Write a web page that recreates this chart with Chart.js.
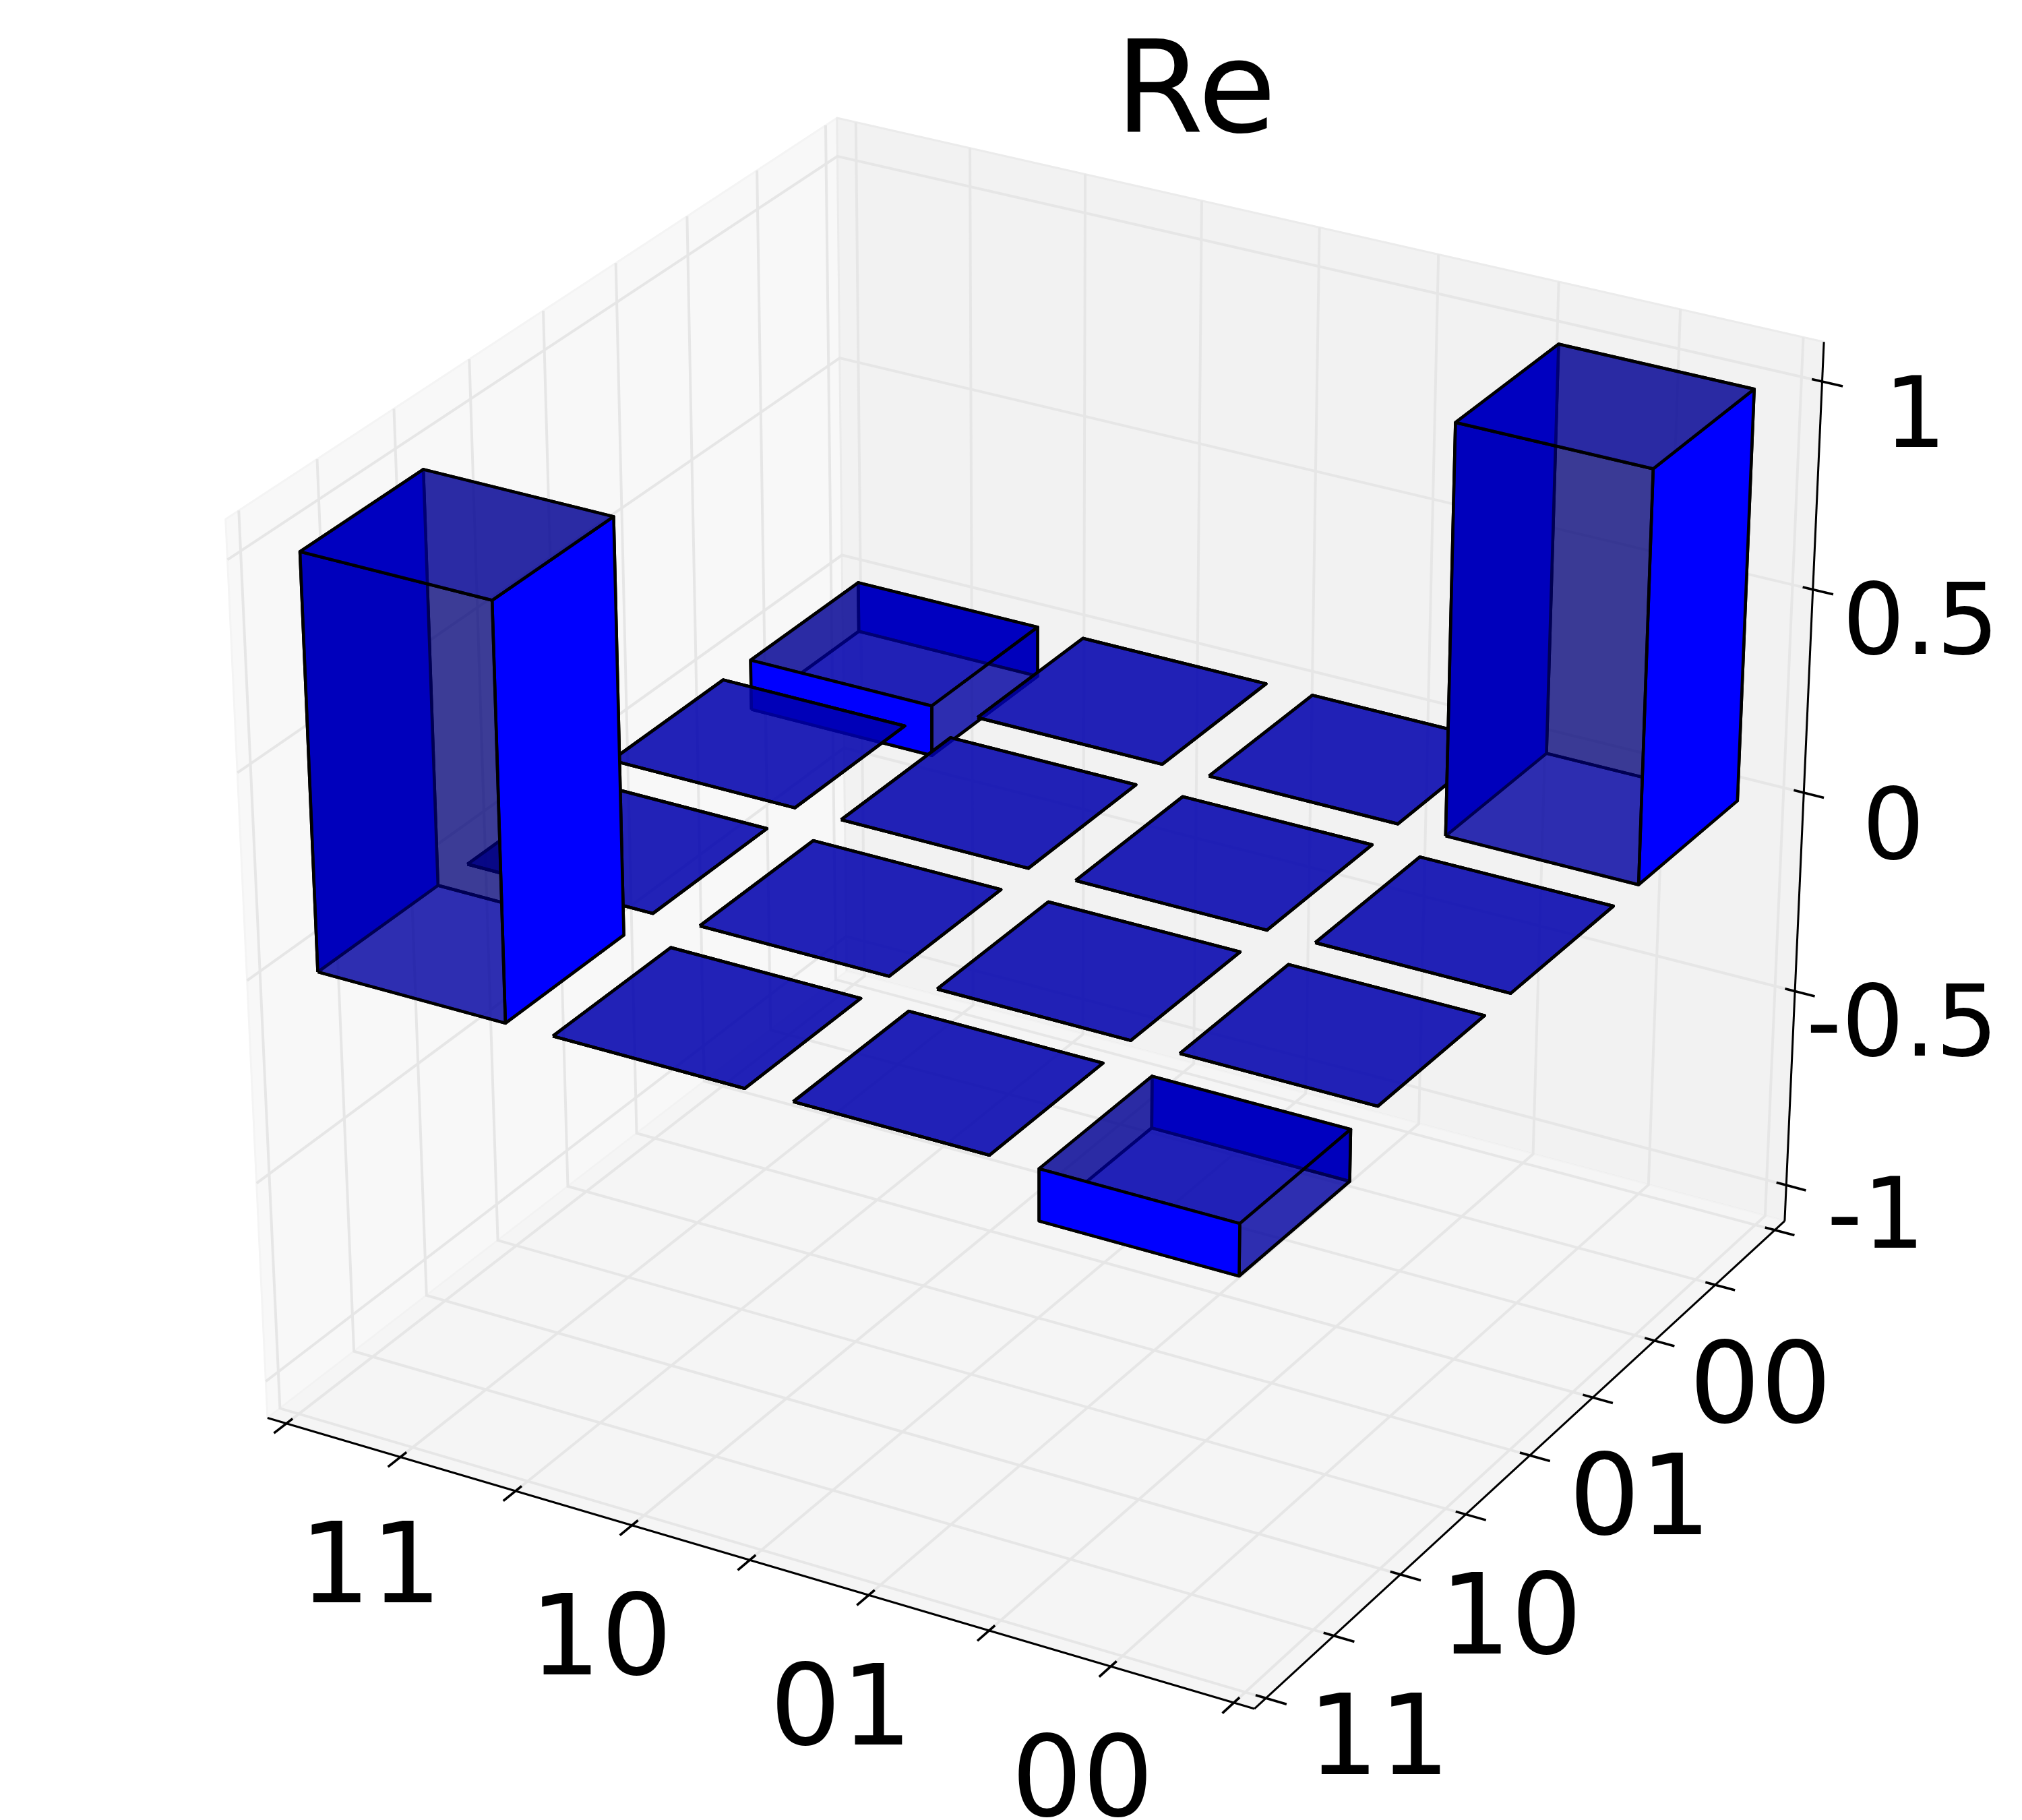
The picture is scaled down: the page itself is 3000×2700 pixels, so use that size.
<!DOCTYPE html>
<html>
<head>
<meta charset="utf-8">
<title>Re</title>
<script src="https://cdn.jsdelivr.net/npm/chart.js@4"></script>
<style>
  html, body { margin: 0; padding: 0; background: #fff; }
  canvas { display: block; }
</style>
</head>
<body>
<canvas id="grafico" width="3000" height="2700"></canvas>
<script>
// values of the matrix, one small list per row, front row first
const linha_11 = [1, 0, 0, -0.125];
const linha_10 = [0, 0, 0, 0];
const linha_01 = [0, 0, 0, 0];
const linha_00 = [-0.125, 0, 0, 1];
const linhas = [linha_11, linha_10, linha_01, linha_00];

const rotulos_x = ["11", "10", "01", "00"];
const rotulos_y = ["11", "10", "01", "00"];
const ticks_xy = [-0.5, 0, 0.5, 1, 1.5, 2, 2.5, 3, 3.5];
const ticks_z = [-1, -0.5, 0, 0.5, 1];
const rotulos_z = ["-1", "-0.5", "0", "0.5", "1"];
const titulo = "Re";

// limits of the 3d box
const lim_xy = [-0.5, 3.5];
const lim_z = [-1.05, 1.05];
const meia_barra = 0.4;
const folga = 1 / 48;

// elev 30, azim -60, dist 10, same camera as mplot3d
const u = [0.8660254, 0.5, 0];
const v = [-0.25, 0.4330127, 0.8660254];
const n = [0.4330127, -0.75, 0.5];

function caixa(x, y, z) {
  return [
    (x - lim_xy[0]) / (lim_xy[1] - lim_xy[0]) - 0.5,
    (y - lim_xy[0]) / (lim_xy[1] - lim_xy[0]) - 0.5,
    (z - lim_z[0]) / (lim_z[1] - lim_z[0]) - 0.5
  ];
}

const dot = (a, b) => a[0] * b[0] + a[1] * b[1] + a[2] * b[2];

function projetar(p) {
  const w = 10 - dot(n, p);
  return { x: 1540.5 + 16227 * dot(u, p) / w, y: 1313 - 14607 * dot(v, p) / w };
}

const ponto = (x, y, z) => projetar(caixa(x, y, z));
const borda = 0.5 + folga;

const conjuntos = [];

function linha(pts, cor, largura) {
  conjuntos.push({
    data: pts, showLine: true, fill: false, borderColor: cor, borderWidth: largura,
    pointRadius: 0, tension: 0, clip: false, borderCapStyle: "butt"
  });
}

function poligono(pts, cor, cor_borda, largura) {
  conjuntos.push({
    data: pts.concat([pts[0]]), showLine: true, fill: "shape", backgroundColor: cor,
    borderColor: cor_borda, borderWidth: largura, borderJoinStyle: "round",
    pointRadius: 0, tension: 0, clip: false
  });
}

// panes
const A = projetar([-borda, -borda, -borda]);
const B = projetar([borda, -borda, -borda]);
const C = projetar([borda, borda, -borda]);
const D = projetar([-borda, borda, -borda]);
const E = projetar([-borda, -borda, borda]);
const F = projetar([borda, borda, borda]);
const G = projetar([-borda, borda, borda]);
poligono([A, D, G, E], "rgb(248,248,248)", "rgb(244,244,244)", 3);
poligono([D, C, F, G], "rgb(242,242,242)", "rgb(235,235,235)", 3);
poligono([A, B, C, D], "rgb(245,245,245)", "rgb(242,242,242)", 2);

// grid
const cor_grade = "rgb(230,230,230)";
const pad_xy = folga * (lim_xy[1] - lim_xy[0]);
const pad_z = folga * (lim_z[1] - lim_z[0]);
const y0 = lim_xy[0] - pad_xy, y1 = lim_xy[1] + pad_xy;
const z0 = lim_z[0] - pad_z, z1 = lim_z[1] + pad_z;
ticks_xy.forEach(t => {
  linha([ponto(t, y0, z0), ponto(t, y1, z0), ponto(t, y1, z1)], cor_grade, 4);
  linha([ponto(y1, t, z0), ponto(y0, t, z0), ponto(y0, t, z1)], cor_grade, 4);
});
ticks_z.forEach(t => {
  linha([ponto(y0, y0, t), ponto(y0, y1, t), ponto(y1, y1, t)], cor_grade, 4);
});

// axis lines and tick marks
linha([A, B], "#000", 3);
linha([B, C], "#000", 3);
linha([C, F], "#000", 3);
const dentro = 0.25 * pad_xy * 2;
const fora = pad_xy;
ticks_xy.forEach(t => {
  linha([ponto(t, y0 + dentro, z0), ponto(t, y0 - fora, z0)], "#000", 3.6);
  linha([ponto(y1 - dentro, t, z0), ponto(y1 + fora, t, z0)], "#000", 3.6);
});
ticks_z.forEach(t => {
  linha([ponto(y1 - dentro, y1, t), ponto(y1 + fora, y1, t)], "#000", 3.6);
});

// bars: all faces go through one depth sort, far faces first
const claro = "rgb(0,0,255)";
const escuro = "rgb(0,0,192)";
const topo = "rgba(0,0,192,0.6)";
const perto = "rgba(0,0,185,0.45)";
const longe = "rgba(0,0,25,0.56)";
const fundo = "rgba(0,0,130,0.66)";
const faces = [];

linhas.forEach((valores, j) => {
  valores.forEach((valor, i) => {
    const x0 = i - meia_barra, x1 = i + meia_barra;
    const a0 = j - meia_barra, a1 = j + meia_barra;
    const baixo = Math.min(0, valor), alto = Math.max(0, valor);
    const negativo = valor < 0;
    const lista = [
      [[x0, a0, baixo], [x1, a0, baixo], [x1, a1, baixo], [x0, a1, baixo], fundo],
      [[x0, a0, alto], [x1, a0, alto], [x1, a1, alto], [x0, a1, alto], topo],
      [[x0, a0, baixo], [x1, a0, baixo], [x1, a0, alto], [x0, a0, alto], negativo ? claro : perto],
      [[x0, a1, baixo], [x1, a1, baixo], [x1, a1, alto], [x0, a1, alto], negativo ? escuro : longe],
      [[x0, a0, baixo], [x0, a1, baixo], [x0, a1, alto], [x0, a0, alto], negativo ? longe : escuro],
      [[x1, a0, baixo], [x1, a1, baixo], [x1, a1, alto], [x1, a0, alto], negativo ? perto : claro]
    ];
    lista.forEach(f => {
      const cantos = f.slice(0, 4).map(c => caixa(c[0], c[1], c[2]));
      const prof = cantos.reduce((s, c) => s + 1 / (10 - dot(n, c)), 0) / 4;
      faces.push({ cantos, cor: f[4], prof });
    });
  });
});

faces.sort((a, b) => a.prof - b.prof);
faces.forEach(f => poligono(f.cantos.map(projetar), f.cor, "#000", 4.5));

// tick labels and title, real text on the canvas
const desvio_x = [[-44, 155], [-46, 161], [-41, 161], [-42, 161]];
const desvio_y = [[67, 145], [67, 146], [70, 142], [67, 143]];
const desvio_z = [[133, 40], [159, 42], [133, 45], [160, 42], [138, 44]];

const textos = {
  id: "textos",
  afterDraw(chart) {
    const ctx = chart.ctx;
    const sx = chart.scales.x, sy = chart.scales.y;
    const escrever = (txt, p, d, tam) => {
      ctx.font = tam + 'px "DejaVu Sans"';
      ctx.textAlign = "center";
      ctx.textBaseline = "alphabetic";
      ctx.fillStyle = "#000";
      ctx.fillText(txt, sx.getPixelForValue(p.x) + d[0], sy.getPixelForValue(p.y) + d[1] + 0.3645 * tam);
    };
    ctx.save();
    rotulos_x.forEach((r, i) => escrever(r, ponto(i, y0, z0), desvio_x[i], 166));
    rotulos_y.forEach((r, i) => escrever(r, ponto(y1, i, z0), desvio_y[i], 166));
    rotulos_z.forEach((r, i) => escrever(r, ponto(y1, y1, ticks_z[i]), desvio_z[i], 146));
    escrever(titulo, { x: 1774, y: 126 }, [0, 0], 189);
    ctx.restore();
  }
};

new Chart(document.getElementById("grafico"), {
  type: "scatter",
  data: { datasets: conjuntos.slice().reverse() },
  options: {
    responsive: false,
    animation: false,
    layout: { padding: 0 },
    scales: {
      x: { type: "linear", min: 0, max: 3000, display: false },
      y: { type: "linear", min: 0, max: 2700, reverse: true, display: false }
    },
    plugins: { legend: { display: false }, tooltip: { enabled: false }, title: { display: false } }
  },
  plugins: [textos]
});
</script>
</body>
</html>
